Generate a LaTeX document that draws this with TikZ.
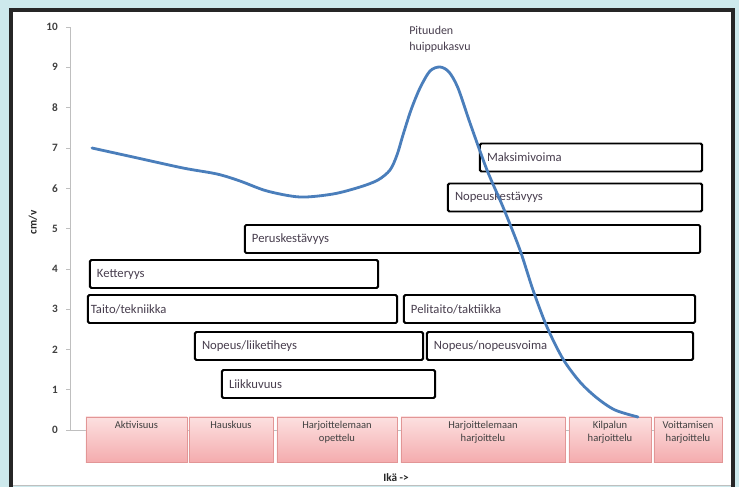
\documentclass[tikz,border=0pt]{standalone}
\usepackage{fontspec}
\setmainfont{Carlito}
\usetikzlibrary{positioning}

\definecolor{bgcyan}{RGB}{205,233,236}
\definecolor{curveblue}{RGB}{74,126,187}
\definecolor{pinktop}{RGB}{252,224,224}
\definecolor{pinkbot}{RGB}{244,172,174}
\definecolor{pinkline}{RGB}{226,150,150}
\definecolor{txtgray}{RGB}{72,62,78}

\begin{document}
\begin{tikzpicture}[
    x=0.025cm, y=-0.025cm,
    bar/.style={draw, line width=1.4pt, rounded corners=1pt, fill=white, minimum height=0.7cm, inner sep=0pt},
    phase/.style={draw=pinkline, top color=pinktop, bottom color=pinkbot, minimum height=1.125cm, inner sep=0pt},
    btxt/.style={font=\fontsize{9}{10}\selectfont, text=txtgray, inner sep=0pt},
    ptxt/.style={font=\fontsize{7.5}{9}\selectfont, text=black!75, align=center, inner sep=0pt},
    ynum/.style={font=\bfseries\fontsize{8}{9}\selectfont, text=black!75, anchor=east, inner sep=0pt},
    axl/.style={font=\bfseries\fontsize{8}{9}\selectfont, text=black!85}
]
\useasboundingbox (0,0) rectangle (739,487);
\fill[bgcyan] (0,0) rectangle (739,487);
\fill[white] (11,10) rectangle (733,486);
\draw[line width=2.2pt, black!85] (11,487) -- (11,10) -- (733,10) -- (733,487);
\draw[black!25] (13,485) -- (731,485);

% axes
\draw[black!25] (70,27) -- (70,430);
\draw[black!25] (66,430) -- (722,430);
\foreach \v in {0,...,10}{
  \draw[black!25] (66,430-40.3*\v) -- (70,430-40.3*\v);
  \node[ynum] (y\v) at (58,430-40.3*\v) {\v};
}
\node[axl, rotate=90] (ylab) at (33,222) {cm/v};
\node[axl] (xlab) at (396,478) {Ikä ->};

% training areas
\node[bar, minimum width=5.55cm] (maks) at (591,157.5) {};
\node[bar, minimum width=6.35cm] (nkest) at (575,197.5) {};
\node[bar, minimum width=11.375cm] (perus) at (472.5,239) {};
\node[bar, minimum width=7.2cm] (kett) at (234,274) {};
\node[bar, minimum width=7.725cm] (taito) at (242.5,309) {};
\node[bar, minimum width=7.275cm] (peli) at (549.5,309) {};
\node[bar, minimum width=5.7cm] (nliike) at (309,346) {};
\node[bar, minimum width=6.65cm] (nvoima) at (560,346) {};
\node[bar, minimum width=5.325cm] (liik) at (328.5,384) {};

\node[btxt, right=5.5pt of maks.west] (maksT) {Maksimivoima};
\node[btxt, right=5.5pt of nkest.west] (nkestT) {Nopeuskestävyys};
\node[btxt, right=5.5pt of perus.west] (perusT) {Peruskestävyys};
\node[btxt, right=5.5pt of kett.west] (kettT) {Ketteryys};
\node[btxt, right=2.5pt of taito.west] (taitoT) {Taito/tekniikka};
\node[btxt, right=5.5pt of peli.west] (peliT) {Pelitaito/taktiikka};
\node[btxt, right=5.5pt of nliike.west] (nliikeT) {Nopeus/liiketiheys};
\node[btxt, right=5.5pt of nvoima.west] (nvoimaT) {Nopeus/nopeusvoima};
\node[btxt, right=5.5pt of liik.west] (liikT) {Liikkuvuus};

% age phases
\node[phase, minimum width=2.525cm] (akt) at (136.5,439.5) {};
\node[phase, minimum width=2.1cm] (hausk) at (231,439.5) {};
\node[phase, minimum width=3cm] (opet) at (337,439.5) {};
\node[phase, minimum width=4.1cm] (harj) at (483,439.5) {};
\node[phase, minimum width=2.05cm] (kilp) at (610,439.5) {};
\node[phase, minimum width=1.7cm] (voitt) at (688,439.5) {};

\node[ptxt, below=3pt of akt.north] (aktT) {Aktivisuus};
\node[ptxt, below=3pt of hausk.north] (hauskT) {Hauskuus};
\node[ptxt, below=3pt of opet.north] (opetT) {Harjoittelemaan\\opettelu};
\node[ptxt, below=3pt of harj.north] (harjT) {Harjoittelemaan\\harjoittelu};
\node[ptxt, below=3pt of kilp.north] (kilpT) {Kilpalun\\harjoittelu};
\node[ptxt, below=3pt of voitt.north] (voittT) {Voittamisen\\harjoittelu};

% growth curve
\draw[curveblue, line width=2pt, line cap=round] plot[smooth, tension=0.5] coordinates {
  (92,148) (133,157) (183,168) (217,174) (240,181) (267,191) (300,197) (333,194)
  (360,187) (378,180) (390,170) (397,155) (403,135) (411,110) (420,88) (430,71)
  (440,67) (449,72) (458,88) (470,123) (487,170) (503,207) (520,250) (533,290)
  (547,327) (563,359) (580,382) (597,398) (615,410) (638,417)};
\node[font=\fontsize{8.5}{11.5}\selectfont, text=txtgray, align=left, anchor=north west, inner sep=0pt] (peak) at (409,26) {Pituuden\\huippukasvu};
\end{tikzpicture}
\end{document}
